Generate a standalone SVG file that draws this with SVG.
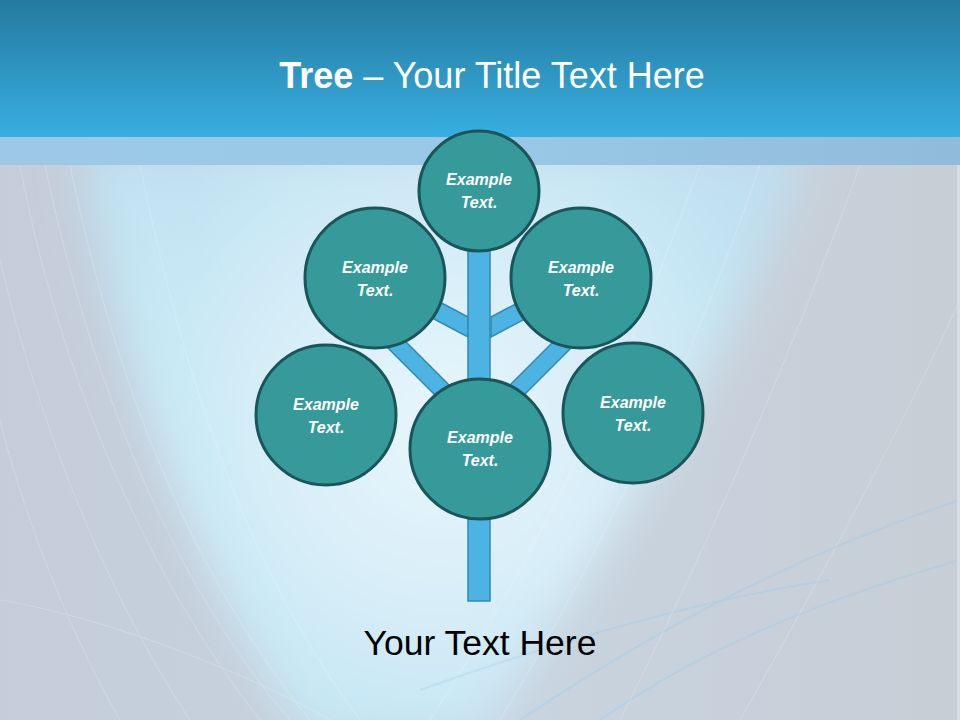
<svg xmlns="http://www.w3.org/2000/svg" width="960" height="720" viewBox="0 0 960 720">
<defs>
<linearGradient id="hdr" x1="0" y1="0" x2="0" y2="1">
<stop offset="0" stop-color="#247a9f"/>
<stop offset="1" stop-color="#38aee1"/>
</linearGradient>
<linearGradient id="band" x1="0" y1="0" x2="1" y2="0">
<stop offset="0" stop-color="#9ccae6"/>
<stop offset="0.5" stop-color="#99c9e7"/>
<stop offset="1" stop-color="#8fbcda"/>
</linearGradient>
<linearGradient id="bg" x1="0" y1="0" x2="1" y2="0">
<stop offset="0" stop-color="#c4cdd9"/>
<stop offset="0.5" stop-color="#c8d4e0"/>
<stop offset="1" stop-color="#c7ced6"/>
</linearGradient>
<radialGradient id="glow" cx="440" cy="430" r="380" gradientUnits="userSpaceOnUse">
<stop offset="0" stop-color="#e8f6fc"/>
<stop offset="0.45" stop-color="#d8eef8"/>
<stop offset="0.8" stop-color="#c6e6f4"/>
<stop offset="1" stop-color="#c0dff0"/>
</radialGradient>
<filter id="soft" x="-20%" y="-20%" width="140%" height="140%">
<feGaussianBlur stdDeviation="22"/>
</filter>
<style>
.node circle{fill:#359a99;stroke:#1a5559;stroke-width:3}
.node text{fill:#ffffff;font-family:"Liberation Sans",Arial,sans-serif;font-size:16px;font-weight:bold;font-style:italic;text-anchor:middle}
.branch{fill:#4cb3e3;stroke:#2f8ab6;stroke-width:1.5}
.strand{fill:none;stroke:#ffffff;stroke-width:1}
</style>
</defs>
<rect x="0" y="0" width="960" height="720" fill="url(#bg)"/>
<path d="M80,150 C120,360 190,560 320,740 L480,740 C570,600 700,420 810,150 Z" fill="url(#glow)" filter="url(#soft)"/>
<path d="M150,170 C190,380 250,560 350,720 L300,720 C200,560 140,380 110,170 Z" fill="#c8ecf6" opacity="0.5" filter="url(#soft)"/>
<g opacity="0.2">
<path class="strand" d="M20,165 C60,380 150,580 260,720"/>
<path class="strand" d="M45,165 C90,380 170,580 290,720"/>
<path class="strand" d="M70,165 C110,360 180,560 310,720"/>
<path class="strand" d="M0,260 C40,430 110,600 190,720"/>
<path class="strand" d="M0,420 C30,540 80,650 120,720"/>
<path class="strand" d="M0,600 C120,620 260,680 330,720"/>
<path class="strand" d="M140,165 C180,360 240,560 360,720"/>
<path class="strand" d="M700,165 C640,330 560,520 430,720"/>
<path class="strand" d="M760,165 C700,340 620,520 500,720"/>
<path class="strand" d="M860,165 C800,330 730,500 620,720"/>
<path class="strand" d="M960,300 C900,430 820,580 740,720"/>
</g>
<g opacity="0.25" stroke="#8cc8ee" fill="none" stroke-width="2">
<path d="M520,720 C640,640 780,560 960,500"/>
<path d="M600,720 C700,650 820,600 960,560"/>
<path d="M420,690 C560,640 700,600 830,580"/>
</g>
<rect x="957" y="165" width="3" height="555" fill="#d6dde4"/>
<rect x="0" y="0" width="960" height="137" fill="url(#hdr)"/>
<rect x="0" y="137" width="960" height="28" fill="url(#band)"/>
<text x="492" y="88" fill="#ffffff" font-family="Liberation Sans, Arial, sans-serif" font-size="36" text-anchor="middle"><tspan font-weight="bold">Tree</tspan> – Your Title Text Here</text>
<g id="connectors">
<polygon class="branch" points="468,317 400,281 400,301 468,337"/>
<polygon class="branch" points="491,317 559,281 559,301 491,337"/>
<polygon class="branch" points="366,302 476,412 464,424 354,314"/>
<polygon class="branch" points="593,302 483,412 495,424 605,314"/>
<rect class="branch" x="468" y="240" width="22" height="361"/>
</g>
<g id="n-top" class="node"><circle cx="479" cy="191" r="60"/><text x="479" y="185">Example</text><text x="479" y="208">Text.</text></g>
<g id="n-ul" class="node"><circle cx="375" cy="278" r="70"/><text x="375" y="273">Example</text><text x="375" y="296">Text.</text></g>
<g id="n-ur" class="node"><circle cx="581" cy="278" r="70"/><text x="581" y="273">Example</text><text x="581" y="296">Text.</text></g>
<g id="n-ll" class="node"><circle cx="326" cy="415" r="70"/><text x="326" y="410">Example</text><text x="326" y="433">Text.</text></g>
<g id="n-lr" class="node"><circle cx="633" cy="413" r="70"/><text x="633" y="408">Example</text><text x="633" y="431">Text.</text></g>
<g id="n-c" class="node"><circle cx="480" cy="449" r="70"/><text x="480" y="443">Example</text><text x="480" y="466">Text.</text></g>
<text x="480" y="655" fill="#000000" font-family="Liberation Sans, Arial, sans-serif" font-size="35.5" text-anchor="middle">Your Text Here</text>
</svg>
